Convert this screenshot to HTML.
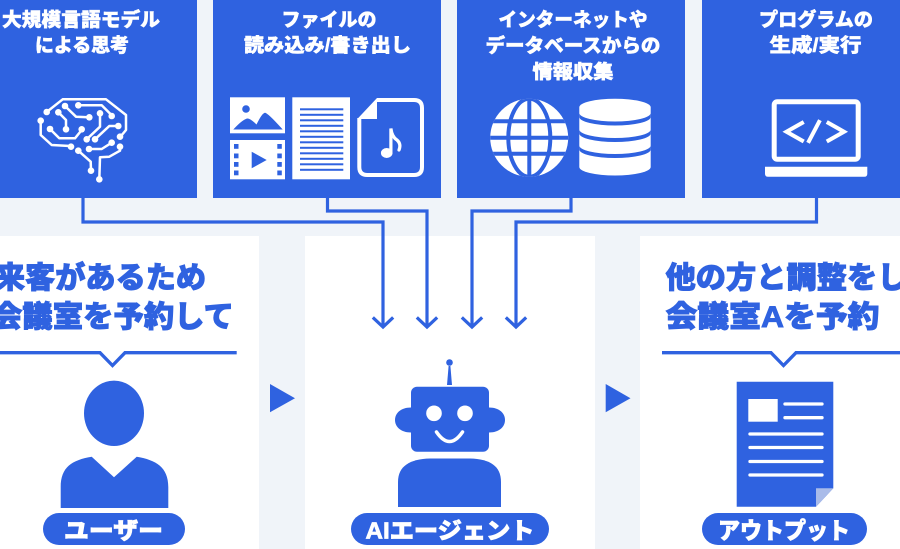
<!DOCTYPE html>
<html><head><meta charset="utf-8"><style>
html,body{margin:0;padding:0;background:#f0f4f9;}
svg{display:block;}
text{font-family:"Liberation Sans","Noto Sans CJK JP",sans-serif;font-weight:900;}
</style></head><body>
<svg width="900" height="549" viewBox="0 0 900 549" xmlns="http://www.w3.org/2000/svg">
<rect width="900" height="549" fill="#f0f4f9"/>
<!-- lower panels -->
<rect x="0" y="236" width="259" height="313" fill="#fff"/>
<rect x="305" y="236" width="290" height="313" fill="#fff"/>
<rect x="640" y="236" width="260" height="313" fill="#fff"/>
<!-- top boxes -->
<g fill="#2f62e0">
<rect x="-31" y="0" width="228" height="198"/>
<rect x="213" y="0" width="228" height="198"/>
<rect x="457" y="0" width="228" height="198"/>
<rect x="702" y="0" width="228" height="198"/>
</g>
<!-- box texts -->
<g fill="#fff" stroke="#fff" stroke-width="0.5" font-size="19">
<text x="2" y="26" textLength="158" lengthAdjust="spacingAndGlyphs">大規模言語モデル</text>
<text x="35" y="51.5" textLength="94" lengthAdjust="spacingAndGlyphs">による思考</text>
<text x="281.5" y="26" textLength="95" lengthAdjust="spacingAndGlyphs">ファイルの</text>
<text x="244" y="51.5" textLength="167" lengthAdjust="spacingAndGlyphs">読み込み/書き出し</text>
<text x="498.5" y="26" textLength="149" lengthAdjust="spacingAndGlyphs">インターネットや</text>
<text x="485.5" y="52" textLength="175" lengthAdjust="spacingAndGlyphs">データベースからの</text>
<text x="532.5" y="78" textLength="81" lengthAdjust="spacingAndGlyphs">情報収集</text>
<text x="759" y="26" textLength="114" lengthAdjust="spacingAndGlyphs">プログラムの</text>
<text x="769.5" y="51.5" textLength="92" lengthAdjust="spacingAndGlyphs">生成/実行</text>
</g>
<!-- brain icon -->
<g stroke="#fff" stroke-width="2.5" fill="none" stroke-linejoin="round" stroke-linecap="round">
<polyline points="46.7,112 62.7,99.3 106,99.3 126,115 126,130 121,136"/>
<polyline points="40.7,120.7 40.7,135 51.7,145 70,146"/>
<polyline points="65,106 76,116.7 88.3,117.3"/>
<polyline points="78.3,105.3 101.7,105.3 111.7,115.3"/>
<polyline points="58.3,112.3 66,120 66,129.3"/>
<polyline points="50,129 59.3,138.3 75,138.3 81.7,130"/>
<polyline points="100,113.3 100,126.7 86.7,139.3"/>
<polyline points="118.3,126 109.3,126 95,139.3"/>
<polyline points="78.3,150.7 90.7,161.7 91,170.7"/>
<polyline points="89,149 101.7,149 111.7,142.7"/>
<polyline points="120,146.7 120,150.7 109.3,156.7 100,157.3 99.3,179.3"/>
</g>
<g fill="#fff">
<circle cx="46.7" cy="112" r="3.3"/><circle cx="65" cy="106" r="3.3"/><circle cx="78.3" cy="105.3" r="3.3"/>
<circle cx="58.3" cy="112.3" r="3.3"/><circle cx="40.7" cy="120.7" r="3.3"/><circle cx="50" cy="129" r="3.3"/>
<circle cx="66" cy="129.3" r="3.3"/><circle cx="81.7" cy="129.3" r="3.3"/><circle cx="89.3" cy="117.3" r="3.3"/>
<circle cx="100" cy="113.3" r="3.3"/><circle cx="111.7" cy="116" r="3.3"/><circle cx="118.3" cy="126" r="3.3"/>
<circle cx="120" cy="136.7" r="3.3"/><circle cx="86.7" cy="139.3" r="3.3"/><circle cx="95" cy="139.3" r="3.3"/>
<circle cx="71" cy="146.7" r="3.3"/><circle cx="78.3" cy="150.7" r="3.3"/><circle cx="89" cy="149" r="3.3"/>
<circle cx="111.7" cy="142.7" r="3.3"/><circle cx="120" cy="146.7" r="3.3"/><circle cx="91" cy="170.7" r="3.3"/>
<circle cx="99.3" cy="179.3" r="3.3"/>
</g>
<!-- file icons -->
<rect x="230" y="97.3" width="55" height="36" fill="#fff"/>
<circle cx="246" cy="109" r="3.8" fill="#2f62e0"/>
<path d="M233.3,129.5 Q242,120 247,118.5 Q250,118 256.5,124.5 Q262,113 265,112.7 Q268,113 282.7,129.5 Z" fill="#2f62e0"/>
<rect x="230" y="140" width="55" height="39.3" fill="#fff"/>
<g fill="#2f62e0">
<rect x="234" y="144" width="4.5" height="4.8"/><rect x="234" y="153.5" width="4.5" height="4.8"/>
<rect x="234" y="162" width="4.5" height="4.8"/><rect x="234" y="170.5" width="4.5" height="4.8"/>
<rect x="277.3" y="144" width="4.5" height="4.8"/><rect x="277.3" y="153.5" width="4.5" height="4.8"/>
<rect x="277.3" y="162" width="4.5" height="4.8"/><rect x="277.3" y="170.5" width="4.5" height="4.8"/>
<polygon points="251.7,151.7 266.7,160 251.7,168.3"/>
</g>
<rect x="292.3" y="97.3" width="57.7" height="82" fill="#fff"/>
<g fill="#2f62e0">
<rect x="300" y="108.3" width="43.3" height="2"/><rect x="300" y="113.8" width="43.3" height="2"/>
<rect x="300" y="119.3" width="43.3" height="2"/><rect x="300" y="124.8" width="43.3" height="2"/>
<rect x="300" y="130.3" width="43.3" height="2"/><rect x="300" y="135.8" width="43.3" height="2"/>
<rect x="300" y="141.3" width="43.3" height="2"/><rect x="300" y="146.8" width="43.3" height="2"/>
<rect x="300" y="152.3" width="43.3" height="2"/><rect x="300" y="157.8" width="43.3" height="2"/>
<rect x="300" y="163.3" width="43.3" height="2"/><rect x="300" y="168.8" width="43.3" height="2"/>
</g>
<path d="M377,100 L414,100 Q422,100 422,108 L422,167 Q422,175 414,175 L367.3,175 Q359.3,175 359.3,167 L359.3,118" fill="none" stroke="#fff" stroke-width="4"/>
<path d="M377,98 L377,119 L357.3,119 Z" fill="#fff"/>
<ellipse cx="386.7" cy="153" rx="5.8" ry="5" fill="#fff"/>
<path d="M390.9,153 L390.9,128.5 Q392,137 397,140 Q401.5,144 399,150" fill="none" stroke="#fff" stroke-width="3.2" stroke-linecap="round"/>
<!-- globe -->
<defs><clipPath id="gc"><circle cx="529.2" cy="137.8" r="39"/></clipPath></defs>
<circle cx="529.2" cy="137.8" r="39" fill="#fff"/>
<g clip-path="url(#gc)" stroke="#2f62e0" stroke-width="4" fill="none">
<line x1="485" y1="121.3" x2="575" y2="121.3"/>
<line x1="485" y1="137.7" x2="575" y2="137.7"/>
<line x1="485" y1="153.7" x2="575" y2="153.7"/>
<line x1="529.3" y1="95" x2="529.3" y2="180"/>
<ellipse cx="529.3" cy="137.8" rx="21" ry="39"/>
</g>
<!-- database -->
<path d="M579.3,107.2 A35.7,8.5 0 0 1 650.7,107.2 L650.7,167 A35.7,8.5 0 0 1 579.3,167 Z" fill="#fff"/>
<g fill="#2f62e0">
<path d="M579.3,113 A35.7,8.5 0 0 0 650.7,113 L650.7,117 A35.7,8.5 0 0 1 579.3,117 Z"/>
<path d="M579.3,129.5 A35.7,8.5 0 0 0 650.7,129.5 L650.7,133.5 A35.7,8.5 0 0 1 579.3,133.5 Z"/>
<path d="M579.3,145.5 A35.7,8.5 0 0 0 650.7,145.5 L650.7,149.5 A35.7,8.5 0 0 1 579.3,149.5 Z"/>
</g>
<!-- laptop -->
<rect x="774.2" y="101.8" width="84" height="57.4" rx="3" fill="none" stroke="#fff" stroke-width="5"/>
<path d="M765,166.7 L867.3,166.7 L867.3,173.7 Q867.3,176.7 864.3,176.7 L768,176.7 Q765,176.7 765,173.7 Z" fill="#fff"/>
<g stroke="#fff" stroke-width="4" fill="none" stroke-linecap="square" stroke-linejoin="miter">
<polyline points="802,123 786.5,131.7 802,140.5"/>
<line x1="819" y1="122" x2="809" y2="141"/>
<polyline points="828.5,123 844,131.7 828.5,140.5"/>
</g>
<!-- connectors -->
<g stroke="#2f62e0" stroke-width="3.2" fill="none">
<polyline points="83,197 83,222 383,222 383,326"/>
<polyline points="327.5,197 327.5,211 427,211 427,326"/>
<polyline points="571,197 571,211 472,211 472,326"/>
<polyline points="816.5,197 816.5,222 516,222 516,326"/>
</g>
<g stroke="#2f62e0" stroke-width="3.2" fill="none" stroke-linecap="square">
<polyline points="374,318.5 383,327 392,318.5"/>
<polyline points="418,318.5 427,327 436,318.5"/>
<polyline points="463,318.5 472,327 481,318.5"/>
<polyline points="507,318.5 516,327 525,318.5"/>
</g>
<!-- big texts -->
<g fill="#2f62e0" stroke="#2f62e0" stroke-width="0.9" font-size="30">
<text x="-5" y="288" textLength="211" lengthAdjust="spacingAndGlyphs">来客があるため</text>
<text x="-8" y="327" textLength="242" lengthAdjust="spacingAndGlyphs">会議室を予約して</text>
<text x="665.5" y="288" textLength="242" lengthAdjust="spacingAndGlyphs">他の方と調整をし</text>
<text x="665.5" y="327" textLength="214" lengthAdjust="spacingAndGlyphs">会議室Aを予約</text>
</g>
<!-- bubble lines -->
<g stroke="#2f62e0" stroke-width="3.3" fill="none">
<polyline points="0,352.7 100,352.7 112.5,365.5 125,352.7 236.7,352.7"/>
<polyline points="662,352.7 771,352.7 783.5,365.5 796,352.7 900,352.7"/>
</g>
<!-- play arrows -->
<g fill="#2f62e0">
<polygon points="270,384 295,398.2 270,412.3"/>
<polygon points="605.7,384 630.5,398.2 605.7,412.3"/>
</g>
<!-- user -->
<g fill="#2f62e0">
<ellipse cx="114" cy="413.3" rx="30" ry="32.7"/>
<path d="M60.7,508 L60.7,487 C60.7,467 72,460 91.7,456.7 L114,477.3 L136.7,456.7 C156,460 168.3,467 168.3,487 L168.3,508 Z"/>
</g>
<!-- robot -->
<g fill="#2f62e0">
<circle cx="449.5" cy="362.5" r="3.3"/>
<polygon points="448.6,366 450.4,366 452,385 447,385"/>
<rect x="411" y="386.7" width="78" height="65" rx="6"/>
<path d="M411,407.5 C401,407.5 395,413 395,420 C395,427 401,432.5 411,432.5 Z"/>
<path d="M489,407.5 C499,407.5 505,413 505,420 C505,427 499,432.5 489,432.5 Z"/>
<path d="M398,507 L398,482 C398,466 410,459 430,458.5 L470,458.5 C490,459 501,466 501,482 L501,507 Z"/>
</g>
<g fill="#fff">
<circle cx="434" cy="413.3" r="7.8"/>
<circle cx="465" cy="413.3" r="7.8"/>
</g>
<path d="M436.5,432 Q449.5,451 462.5,432" fill="none" stroke="#fff" stroke-width="3.5" stroke-linecap="round"/>
<!-- output doc -->
<path d="M736.7,381.7 L833.3,381.7 L833.3,488.3 L816,506.7 L736.7,506.7 Z" fill="#2f62e0"/>
<polygon points="816,488.3 833.3,488.3 816,506.7" fill="#a9bbe9"/>
<rect x="748.3" y="399" width="29.4" height="22.7" fill="#fff"/>
<g stroke="#fff" stroke-width="3.3" stroke-linecap="round">
<line x1="785" y1="404" x2="822" y2="404"/>
<line x1="785" y1="417.7" x2="822" y2="417.7"/>
<line x1="750" y1="434" x2="822" y2="434"/>
<line x1="750" y1="447.5" x2="822" y2="447.5"/>
<line x1="750" y1="461.5" x2="822" y2="461.5"/>
<line x1="750" y1="475" x2="822" y2="475"/>
</g>
<!-- pills -->
<g fill="#2f62e0">
<rect x="43" y="513" width="142" height="32" rx="16"/>
<rect x="351" y="513" width="198" height="32" rx="16"/>
<rect x="702" y="513" width="165" height="32" rx="16"/>
</g>
<g fill="#fff" stroke="#fff" stroke-width="0.7" font-size="23">
<text x="64" y="538.5" textLength="99" lengthAdjust="spacingAndGlyphs">ユーザー</text>
<text x="365.5" y="538.5" textLength="169" lengthAdjust="spacingAndGlyphs">AIエージェント</text>
<text x="718" y="538.5" textLength="132" lengthAdjust="spacingAndGlyphs">アウトプット</text>
</g>
</svg>
</body></html>
